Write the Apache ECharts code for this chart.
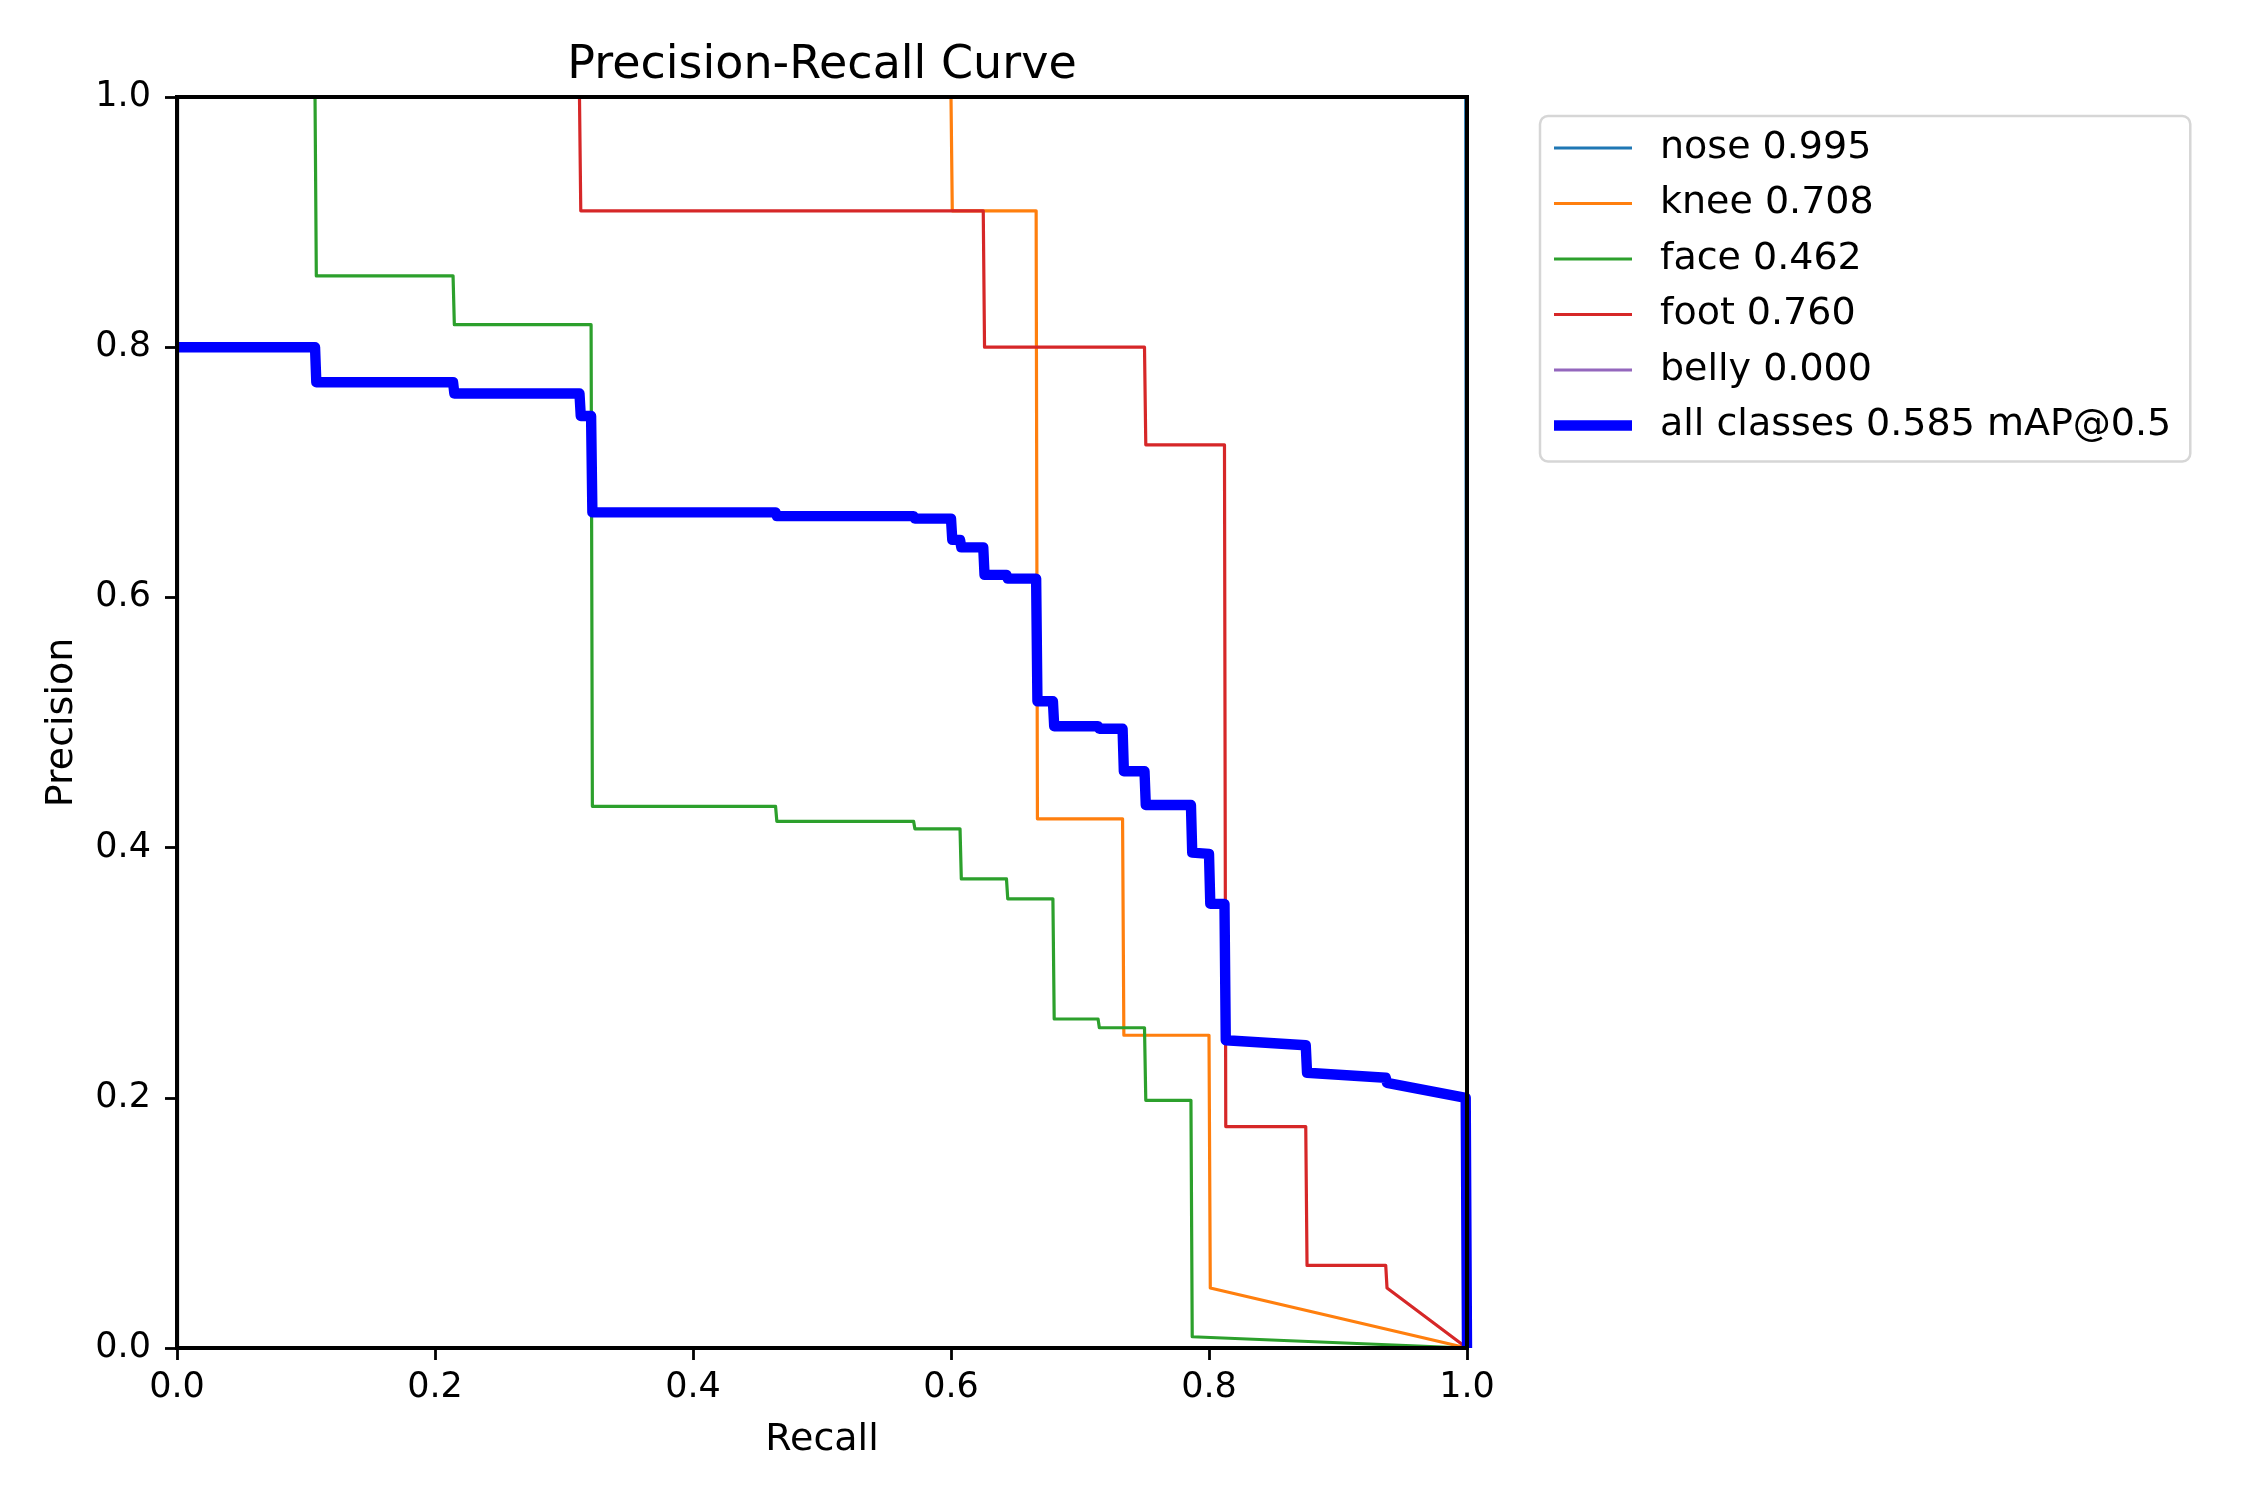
<!DOCTYPE html>
<html>
<head>
<meta charset="utf-8">
<script src="https://cdn.jsdelivr.net/npm/echarts@6/dist/echarts.min.js"></script>
<style>
html,body{margin:0;padding:0;background:#fff;}
#chart{width:2250px;height:1500px;}
</style>
</head>
<body>
<div id="chart"></div>
<script>
// ---- data ----
const classNames = ['nose', 'knee', 'face', 'foot', 'belly'];
const classAP = ['0.995', '0.708', '0.462', '0.760', '0.000'];
const allLabel = 'all classes 0.585 mAP@0.5';
const axisTicks = [0, 0.2, 0.4, 0.6, 0.8, 1.0];

const noseRecall = [0, 0.999, 1.0];
const nosePrecision = [1, 1, 0];

const kneeRecall = [0, 0.600, 0.601, 0.666, 0.667, 0.733, 0.734, 0.800, 0.801, 1.0];
const kneePrecision = [1, 1, 0.909, 0.909, 0.423, 0.423, 0.250, 0.250, 0.048, 0];

const faceRecall = [0, 0.107, 0.108, 0.214, 0.215, 0.321, 0.322, 0.464, 0.465, 0.571, 0.572, 0.607, 0.608, 0.643, 0.644, 0.679, 0.680, 0.714, 0.715, 0.750, 0.751, 0.786, 0.787, 1.0];
const facePrecision = [1, 1, 0.857, 0.857, 0.818, 0.818, 0.433, 0.433, 0.421, 0.421, 0.415, 0.415, 0.375, 0.375, 0.359, 0.359, 0.263, 0.263, 0.256, 0.256, 0.198, 0.198, 0.009, 0];

const footRecall = [0, 0.312, 0.313, 0.625, 0.626, 0.750, 0.751, 0.812, 0.813, 0.875, 0.876, 0.937, 0.938, 1.0];
const footPrecision = [1, 1, 0.909, 0.909, 0.800, 0.800, 0.722, 0.722, 0.177, 0.177, 0.066, 0.066, 0.048, 0];

const bellyRecall = [0, 1.0];
const bellyPrecision = [0, 0];

const allRecall = [0, 0.107, 0.108, 0.214, 0.215, 0.312, 0.313, 0.321, 0.322, 0.464, 0.465, 0.571, 0.572, 0.600, 0.601, 0.607, 0.608, 0.625, 0.626, 0.643, 0.644, 0.666, 0.667, 0.679, 0.680, 0.714, 0.715, 0.733, 0.734, 0.750, 0.751, 0.786, 0.787, 0.800, 0.801, 0.812, 0.813, 0.875, 0.876, 0.937, 0.938, 0.999, 1.0];
const allPrecision = [0.800, 0.800, 0.772, 0.772, 0.763, 0.763, 0.745, 0.745, 0.668, 0.668, 0.665, 0.665, 0.663, 0.663, 0.646, 0.646, 0.640, 0.640, 0.618, 0.618, 0.615, 0.615, 0.517, 0.517, 0.497, 0.497, 0.495, 0.495, 0.461, 0.461, 0.434, 0.434, 0.396, 0.395, 0.355, 0.355, 0.246, 0.242, 0.220, 0.216, 0.212, 0.200, 0];

// ---- build ----
const FONT = 'DejaVu Sans';
const pairs = (xs, ys) => xs.map((x, i) => [x, ys[i]]);
const classCurves = [
  [noseRecall, nosePrecision],
  [kneeRecall, kneePrecision],
  [faceRecall, facePrecision],
  [footRecall, footPrecision],
  [bellyRecall, bellyPrecision]
];
const classColors = ['#1f77b4', '#ff7f0e', '#2ca02c', '#d62728', '#9467bd'];
const ALL_COLOR = '#0000ff';
const THIN = 3.2, THICK = 10.4, SPINE = 3.2, FRAME = 4;

// legend line icons: a horizontal strip inside a 78x14 box (tiny corner anchors keep the box size)
const ICON_W = 78, ICON_H = 14;
function stripIcon(h) {
  const y0 = (ICON_H - h) / 2, y1 = y0 + h;
  return 'path://M0,0L0.01,0L0.01,0.01Z' +
    'M0,' + y0 + 'L' + ICON_W + ',' + y0 + 'L' + ICON_W + ',' + y1 + 'L0,' + y1 + 'Z' +
    'M' + (ICON_W - 0.01) + ',' + (ICON_H - 0.01) + 'L' + ICON_W + ',' + (ICON_H - 0.01) + 'L' + ICON_W + ',' + ICON_H + 'Z';
}

const series = classCurves.map((c, i) => ({
  name: classNames[i] + ' ' + classAP[i],
  type: 'line',
  data: pairs(c[0], c[1]),
  symbol: 'none',
  showSymbol: false,
  color: classColors[i],
  lineStyle: {width: THIN, color: classColors[i], join: 'round', cap: 'butt'},
  z: 1
}));
series.push({
  name: allLabel,
  type: 'line',
  data: pairs(allRecall, allPrecision),
  symbol: 'none',
  showSymbol: false,
  color: ALL_COLOR,
  lineStyle: {width: THICK, color: ALL_COLOR, join: 'round', cap: 'butt'},
  z: 2
});

const legendData = series.map((s, i) => ({
  name: s.name,
  icon: stripIcon(i === series.length - 1 ? THICK : THIN),
  itemStyle: {color: s.color, borderWidth: 0}
}));

const spine = {show: true, onZero: false, lineStyle: {color: '#000', width: SPINE}};
const tick = {show: true, inside: false, length: 12, lineStyle: {color: '#000', width: 2.8}};
const fmt = v => v.toFixed(1);

const chart = echarts.init(document.getElementById('chart'), null, {renderer: 'canvas'});
chart.setOption({
  animation: false,
  backgroundColor: '#ffffff',
  textStyle: {fontFamily: FONT},
  title: {
    text: 'Precision-Recall Curve',
    left: 817,
    top: 38,
    textAlign: 'center',
    textStyle: {fontFamily: FONT, fontSize: 46, fontWeight: 'normal', color: '#000'}
  },
  grid: {left: 177, top: 97, right: 783, bottom: 152, containLabel: false},
  xAxis: {
    type: 'value', min: axisTicks[0], max: axisTicks[axisTicks.length - 1], interval: 0.2,
    position: 'bottom', z: 10,
    axisLine: spine, axisTick: tick,
    axisLabel: {fontFamily: FONT, fontSize: 35, color: '#000', margin: 22, formatter: fmt},
    splitLine: {show: false},
    name: 'Recall', nameLocation: 'middle', nameGap: 73,
    nameTextStyle: {fontFamily: FONT, fontSize: 38, color: '#000'}
  },
  yAxis: {
    type: 'value', min: axisTicks[0], max: axisTicks[axisTicks.length - 1], interval: 0.2,
    position: 'left', z: 10,
    axisLine: spine, axisTick: tick,
    axisLabel: {fontFamily: FONT, fontSize: 35, color: '#000', margin: 26, formatter: fmt},
    splitLine: {show: false},
    name: 'Precision', nameLocation: 'middle', nameGap: 96, nameRotate: 90,
    nameTextStyle: {fontFamily: FONT, fontSize: 38, color: '#000'}
  },
  legend: {
    orient: 'vertical',
    left: 1540,
    top: 116,
    padding: [13, 19, 17, 14],
    itemWidth: ICON_W,
    itemHeight: ICON_H,
    itemGap: 17.5,
    symbolKeepAspect: false,
    backgroundColor: '#ffffff',
    borderColor: '#d6d6d6',
    borderWidth: 2.5,
    borderRadius: 8,
    selectedMode: false,
    itemStyle: {borderWidth: 0},
    textStyle: {fontFamily: FONT, fontSize: 38, color: '#000', lineHeight: 38, padding: [0, 0, 0, 23]},
    data: legendData
  },
  series: series
});

// axes frame (all four spines) drawn above the curves, placed from the axis scales
const p0 = chart.convertToPixel({gridIndex: 0}, [axisTicks[0], axisTicks[axisTicks.length - 1]]);
const p1 = chart.convertToPixel({gridIndex: 0}, [axisTicks[axisTicks.length - 1], axisTicks[0]]);
chart.setOption({
  graphic: [{
    type: 'rect',
    silent: true,
    z: 100,
    shape: {x: p0[0], y: p0[1], width: p1[0] - p0[0], height: p1[1] - p0[1]},
    style: {fill: 'none', stroke: '#000', lineWidth: FRAME}
  }]
});
</script>
</body>
</html>
